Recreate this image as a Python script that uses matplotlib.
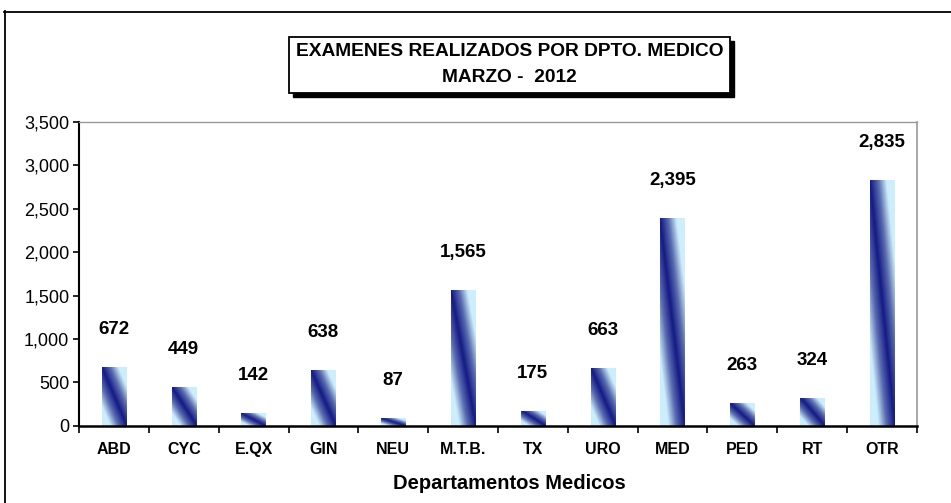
import numpy as np
import matplotlib
matplotlib.use('Agg')
import matplotlib.pyplot as plt
from matplotlib.patches import Rectangle
from matplotlib.lines import Line2D
from matplotlib.colors import LinearSegmentedColormap
from matplotlib.ticker import FuncFormatter, MultipleLocator

departamentos = ['ABD', 'CYC', 'E.QX', 'GIN', 'NEU', 'M.T.B.', 'TX', 'URO', 'MED', 'PED', 'RT', 'OTR']
examenes = [672, 449, 142, 638, 87, 1565, 175, 663, 2395, 263, 324, 2835]

plt.rcParams['font.family'] = ['Liberation Sans', 'DejaVu Sans']

W, H = 951, 503
fig = plt.figure(figsize=(W / 100, H / 100), dpi=100)
ax = fig.add_axes([79 / W, 1 - 425.7 / H, (917 - 79) / W, (425.7 - 122) / H])

# degradado azul marino -> celeste
cmap = LinearSegmentedColormap.from_list('grad', ['#141a85', '#5a6cb0', '#cdeefc'])
n = 120
u, t = np.meshgrid(np.linspace(0, 1, n), np.linspace(0, 1, n))
grad = np.clip(np.abs(u - t) * 1.5, 0, 1)

x = np.arange(len(departamentos))
bars = ax.bar(x, examenes, width=0.35, facecolor='none', edgecolor='none')
for b in bars:
    x0, w, h = b.get_x(), b.get_width(), b.get_height()
    im = ax.imshow(grad, cmap=cmap, vmin=0, vmax=1, aspect='auto',
                   extent=(x0, x0 + w, 0, h), origin='upper',
                   interpolation='bilinear', zorder=2)
    im.set_clip_path(b)

for xi, v in zip(x, examenes):
    ax.annotate(f'{v:,}', (xi, v), xytext=(0, 27), textcoords='offset points',
                ha='center', va='center', fontsize=13.5, fontweight='bold')

ax.set_xlim(-0.5, len(departamentos) - 0.5)
ax.set_ylim(0, 3500)
ax.yaxis.set_major_locator(MultipleLocator(500))
ax.yaxis.set_major_formatter(FuncFormatter(lambda v, p: f'{int(v):,}'))
ax.tick_params(axis='y', labelsize=13, length=4, width=1.2, direction='out', pad=3)

ax.set_xticks(x)
ax.set_xticklabels(departamentos, fontsize=11.5, fontweight='bold')
ax.tick_params(axis='x', length=0, pad=12)
ax.set_xticks(np.arange(-0.5, len(departamentos) + 0.5, 1), minor=True)
ax.tick_params(axis='x', which='minor', length=5, width=1.2, direction='out')

ax.spines['left'].set_linewidth(1.5)
ax.spines['bottom'].set_linewidth(1.8)
ax.spines['top'].set_color('#999999')
ax.spines['right'].set_color('#999999')
ax.spines['top'].set_linewidth(1)
ax.spines['right'].set_linewidth(1.2)

ax.set_xlabel('Departamentos Medicos', fontsize=14.5, fontweight='bold')
ax.xaxis.set_label_coords(0.514, -0.16)

# marco exterior
fig.add_artist(Line2D([4.5 / W, 4.5 / W], [1 - 11 / H, 0], color='black', lw=1.3))
fig.add_artist(Line2D([4 / W, 1], [1 - 11.5 / H, 1 - 11.5 / H], color='black', lw=1.3))

# caja del titulo con sombra
bx0, by0, bx1, by1 = 289, 37, 730, 93
fig.add_artist(Rectangle((bx0 / W + 4 / W, 1 - (by1 + 4) / H), (bx1 - bx0) / W, (by1 - by0) / H,
                         transform=fig.transFigure, facecolor='black', edgecolor='black'))
fig.add_artist(Rectangle((bx0 / W, 1 - by1 / H), (bx1 - bx0) / W, (by1 - by0) / H,
                         transform=fig.transFigure, facecolor='white', edgecolor='black', lw=1.3))
fig.text(509.5 / W, 1 - 52 / H, 'EXAMENES REALIZADOS POR DPTO. MEDICO', ha='center', va='center',
         fontsize=13.8, fontweight='bold')
fig.text(509.5 / W, 1 - 78 / H, 'MARZO -  2012', ha='center', va='center',
         fontsize=13.8, fontweight='bold')

fig.savefig('out.png', dpi=100)
